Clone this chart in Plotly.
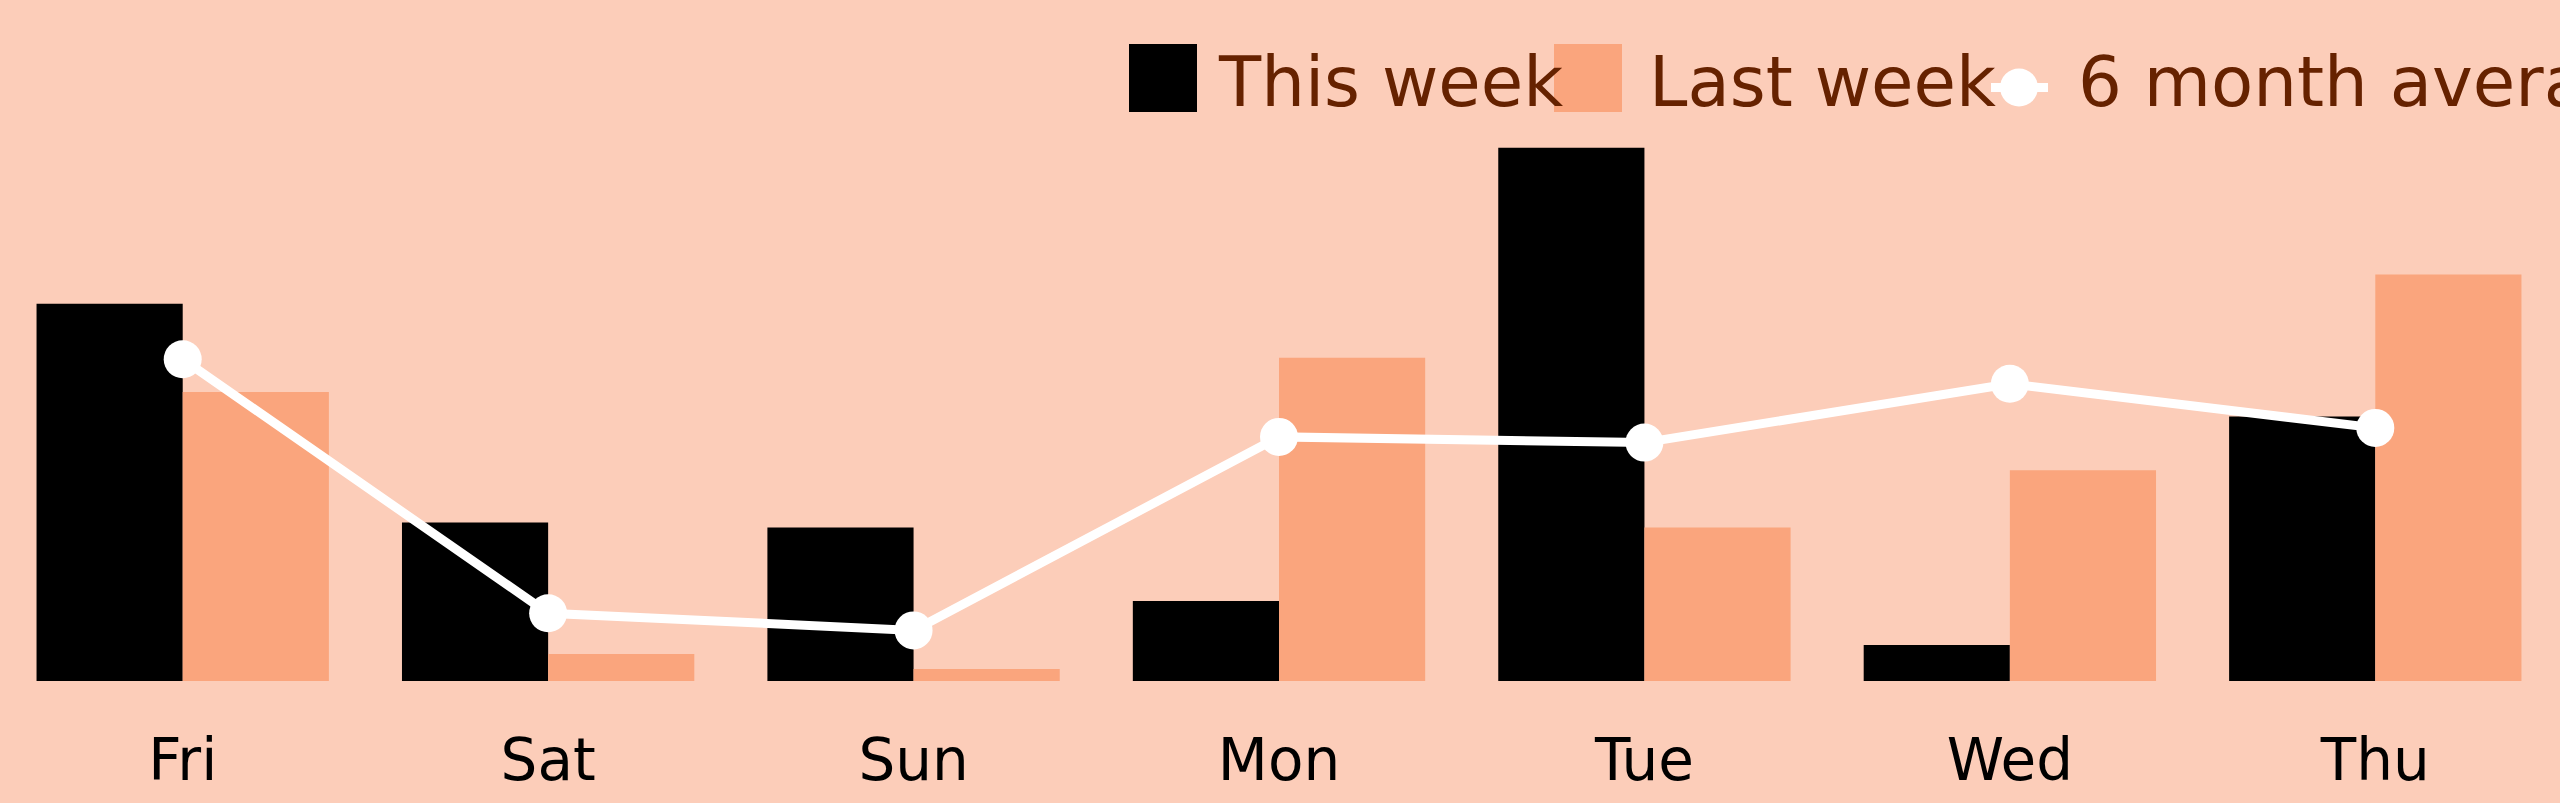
import plotly.graph_objects as go

days = ["Fri", "Sat", "Sun", "Mon", "Tue", "Wed", "Thu"]
this_week = [23.1, 9.7, 9.4, 4.9, 32.65, 2.2, 16.2]
last_week = [17.7, 1.65, 0.74, 19.8, 9.4, 12.9, 24.9]
avg_6m = [19.7, 4.15, 3.1, 14.95, 14.6, 18.2, 15.5]

series_names = ["This week", "Last week", "6 month average"]
BG = "#FCCDB9"
C_THIS = "#000000"
C_LAST = "#FAA57D"
C_AVG = "#FFFFFF"
LEG_TEXT = "#662200"

W, H = 2560, 803
MT, MB, ML, MR = 100, 122, 0, 2
PLOT_H = H - MT - MB
PLOT_W = W - ML - MR

fig = go.Figure()
fig.add_trace(go.Bar(x=days, y=this_week, name=series_names[0],
                     marker=dict(color=C_THIS, line=dict(width=0))))
fig.add_trace(go.Bar(x=days, y=last_week, name=series_names[1],
                     marker=dict(color=C_LAST, line=dict(width=0))))
fig.add_trace(go.Scatter(x=days, y=avg_6m, name=series_names[2],
                         mode="lines+markers",
                         line=dict(color=C_AVG, width=9),
                         marker=dict(color=C_AVG, size=38)))

# custom legend (large swatches), placed in pixel terms converted to paper coords
def px(xp):
    return (xp - ML) / PLOT_W

def py(yp):
    return (H - MB - yp) / PLOT_H

shapes = [
    dict(type="rect", xref="paper", yref="paper", x0=px(1129), x1=px(1197),
         y0=py(112), y1=py(44), fillcolor=C_THIS, line=dict(width=0), layer="above"),
    dict(type="rect", xref="paper", yref="paper", x0=px(1554), x1=px(1622),
         y0=py(112), y1=py(44), fillcolor=C_LAST, line=dict(width=0), layer="above"),
    dict(type="line", xref="paper", yref="paper", x0=px(1991), x1=px(2048),
         y0=py(87.5), y1=py(87.5), line=dict(color=C_AVG, width=9), layer="above"),
    dict(type="circle", xref="paper", yref="paper", x0=px(2000), x1=px(2038),
         y0=py(106.5), y1=py(68.5), fillcolor=C_AVG, line=dict(width=0), layer="above"),
]
annotations = []
for name, x0 in zip(series_names, [1216, 1647, 2076]):
    annotations.append(dict(text=name, xref="paper", yref="paper", x=px(x0), y=py(82),
                            xanchor="left", yanchor="middle", showarrow=False,
                            font=dict(size=69, color=LEG_TEXT, family="DejaVu Sans")))

fig.update_layout(
    width=W, height=H,
    paper_bgcolor=BG, plot_bgcolor=BG,
    margin=dict(l=ML, r=MR, t=MT, b=MB, pad=0),
    barmode="group", bargap=0.2, bargroupgap=0,
    font=dict(family="DejaVu Sans", color="#000000"),
    showlegend=False,
    shapes=shapes,
    annotations=annotations,
    xaxis=dict(showgrid=False, zeroline=False, showline=False,
               tickfont=dict(size=58, color="#000000"), ticklabelstandoff=40),
    yaxis=dict(visible=False, range=[0, 35.58]),
)
fig.write_html("out.html", config={"displayModeBar": False},
               post_script="document.body.style.margin='0';document.body.style.overflow='hidden';")
